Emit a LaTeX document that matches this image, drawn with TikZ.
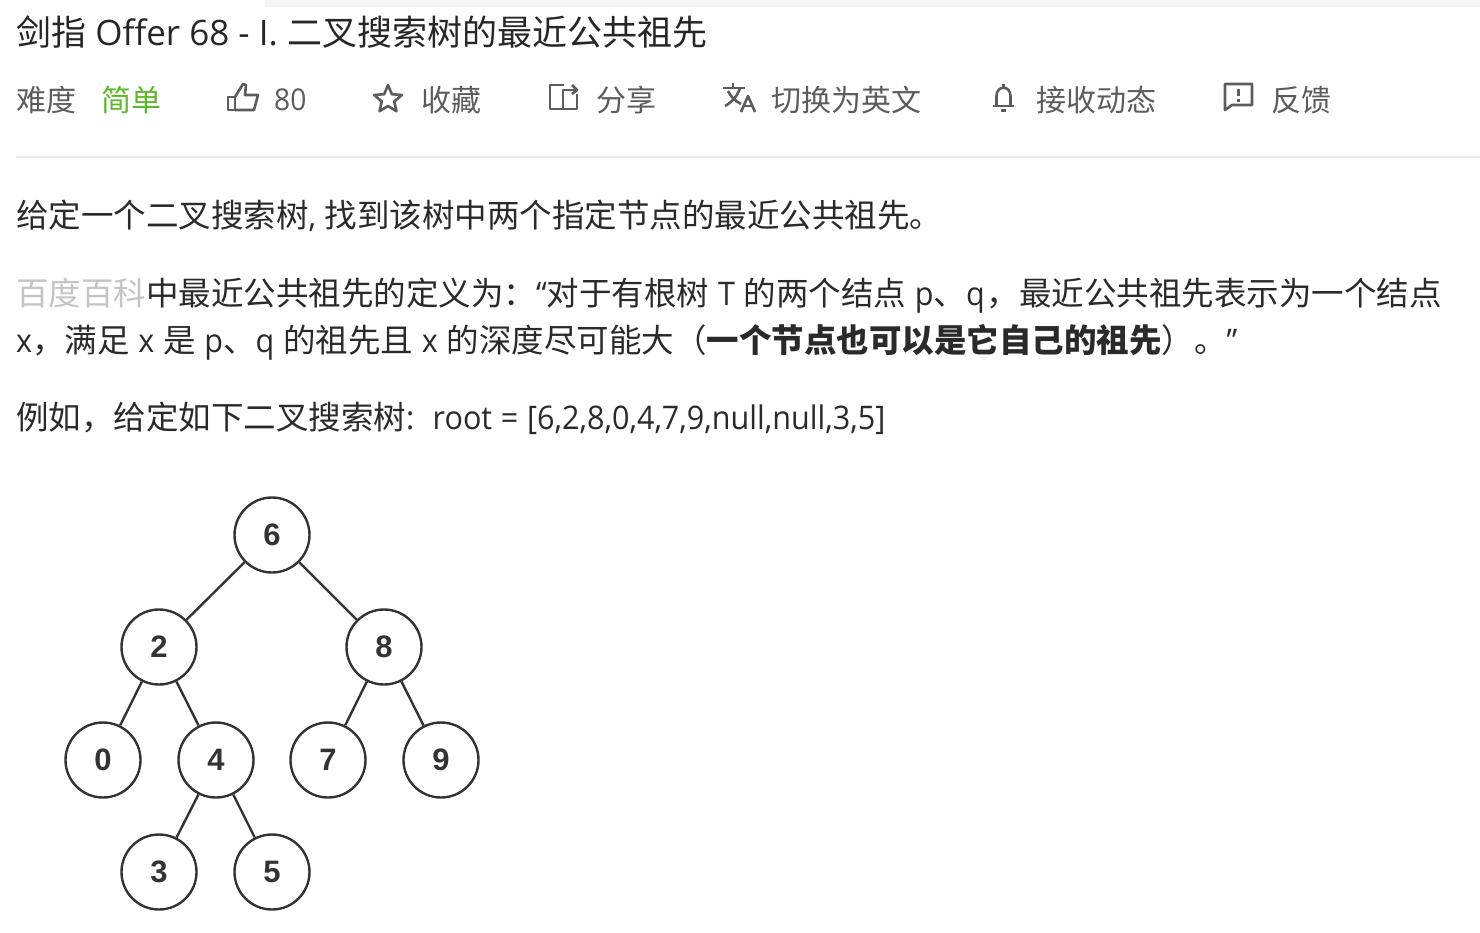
\documentclass[tikz,border=0pt]{standalone}
\usepackage{fontspec}
\setmainfont[FakeStretch=0.94, WordSpace=1.1]{Open Sans}
\newfontfamily\cjk{Noto Sans CJK SC}
\newfontfamily\titlefont{Open Sans}
\newfontfamily\treefont{Liberation Sans}
\newcommand{\zh}[1]{{\cjk #1}}
\newcommand{\zhcomma}{{\cjk\char"FF0C}}
\newcommand{\zhcolon}{{\cjk\char"FF1A}}
\newcommand{\zhleft}{{\cjk\char"FF08}}
\newcommand{\zhright}{{\cjk\char"FF09}}
\definecolor{titlecol}{HTML}{262626}
\definecolor{bodycol}{HTML}{2A2A2A}
\definecolor{metacol}{HTML}{5C5C5C}
\definecolor{easycol}{HTML}{5CB82A}
\definecolor{linkcol}{HTML}{C4C4C4}
\definecolor{rulecol}{HTML}{E8E8E8}
\definecolor{barcol}{HTML}{F5F5F5}
\definecolor{treecol}{HTML}{333333}
\tikzset{
    titletext/.style={anchor=base west, inner sep=0pt, text=titlecol, font=\titlefont\fontsize{35}{40}\selectfont},
    metatext/.style={anchor=base west, inner sep=0pt, text=metacol, font=\fontsize{30}{36}\selectfont},
    bodytext/.style={anchor=base west, inner sep=0pt, text=bodycol, font=\fontsize{32.5}{38}\selectfont},
    treenode/.style={circle, draw=treecol, line width=2.4pt, minimum size=75pt, inner sep=0pt, text=treecol, font=\treefont\bfseries\fontsize{31}{36}\selectfont},
    treeedge/.style={draw=treecol, line width=2.4pt},
    iconline/.style={draw=metacol, line width=2.6pt, line join=round}
}

\begin{document}
\begin{tikzpicture}[x=1pt, y=-1pt]
    \useasboundingbox (0, 0) rectangle (1480, 932);
    \fill[barcol] (265, 0) rectangle (1480, 7);

    % heading
    \node[titletext] (title) at (16, 45) {\zh{剑指} Offer 68 - I. \hspace{1pt}\zh{二叉搜索树的最近公共祖先}};

    % toolbar
    \node[metatext] (level) at (16, 111) {\zh{难度}};
    \node[metatext, text=easycol] (easy) at (101, 111) {\zh{简单}};
    \node[metatext] (likes) at (274, 110) {80};
    \node[metatext] (collect) at (421, 111) {\zh{收藏}};
    \node[metatext] (share) at (596, 111) {\zh{分享}};
    \node[metatext] (english) at (771, 111) {\zh{切换为英文}};
    \node[metatext] (notify) at (1036, 111) {\zh{接收动态}};
    \node[metatext] (feedback) at (1271, 111) {\zh{反馈}};

    % toolbar icons
    \draw[iconline] (228, 97) rectangle (235, 110);
    \draw[iconline] (235, 97) -- (243, 84) -- (246, 85) -- (245, 95) -- (258, 95) -- (254, 110) -- (235, 110);
    \draw[iconline] (388, 85) -- (391.8, 94.2) -- (401.8, 95) -- (394.2, 101.5) -- (396.5, 111.2) -- (388, 106)
        -- (379.5, 111.2) -- (381.8, 101.5) -- (374.2, 95) -- (384.2, 94.2) -- cycle;
    \draw[iconline] (564, 85) -- (550, 85) -- (550, 109) -- (577, 109) -- (577, 94);
    \draw[iconline] (563, 109) -- (563, 90) -- (576, 90);
    \draw[iconline] (572, 85) -- (577, 90) -- (572, 94);
    \draw[iconline] (723, 88) -- (745, 88);
    \draw[iconline] (733, 83) -- (733, 88);
    \draw[iconline] (740, 88) .. controls (737, 97) and (732, 102) .. (725, 106);
    \draw[iconline] (728, 91) .. controls (731, 97) and (735, 101) .. (741, 104);
    \draw[iconline] (741, 112) -- (748, 96) -- (755, 112);
    \draw[iconline] (743.5, 106) -- (752.5, 106);
    \draw[iconline] (993, 106) -- (1014, 106);
    \draw[iconline] (996.5, 106) -- (996.5, 96) .. controls (996.5, 85) and (1010.5, 85) .. (1010.5, 96) -- (1010.5, 106);
    \draw[iconline] (1003.5, 83.5) -- (1003.5, 87);
    \draw[iconline] (1001, 110.5) -- (1006, 110.5);
    \draw[iconline] (1225, 84) -- (1252, 84) -- (1252, 105) -- (1232, 105) -- (1225, 110) -- cycle;
    \draw[iconline] (1238.5, 89) -- (1238.5, 96);
    \draw[iconline] (1238.5, 99) -- (1238.5, 102);

    \draw[rulecol, line width=2pt] (16, 157) -- (1480, 157);

    % statement
    \node[bodytext] (line1) at (16, 227) {\zh{给定一个二叉搜索树}, \zh{找到该树中两个指定节点的最近公共祖先。}};
    \node[bodytext] (line2) at (16, 305) {\textcolor{linkcol}{\zh{百度百科}}\zh{中最近公共祖先的定义为}\zhcolon “\zh{对于有根树} T \zh{的两个结点} p\zh{、}q\hspace{2pt}\zhcomma\zh{最近公共祖先表示为一个结点}};
    \node[bodytext] (line3) at (16, 352) {x\zhcomma\zh{满足} x \zh{是} p\zh{、}q \zh{的祖先且} x \zh{的深度尽可能大}\zhleft{\cjk\bfseries 一个节点也可以是它自己的祖先}\zhright\zh{。}”};
    \node[bodytext] (line4) at (16, 429) {\zh{例如}\zhcomma\zh{给定如下二叉搜索树}:\hspace{7pt} root = [6,2,8,0,4,7,9,null,null,3,5]};

    % tree
    \node[treenode] (n6) at (272, 535) {6};
    \node[treenode] (n2) at (159, 647) {2};
    \node[treenode] (n8) at (384, 647) {8};
    \node[treenode] (n0) at (103, 760) {0};
    \node[treenode] (n4) at (216, 760) {4};
    \node[treenode] (n7) at (328, 760) {7};
    \node[treenode] (n9) at (441, 760) {9};
    \node[treenode] (n3) at (159, 872) {3};
    \node[treenode] (n5) at (272, 872) {5};
    \draw[treeedge] (n6) -- (n2);
    \draw[treeedge] (n6) -- (n8);
    \draw[treeedge] (n2) -- (n0);
    \draw[treeedge] (n2) -- (n4);
    \draw[treeedge] (n8) -- (n7);
    \draw[treeedge] (n8) -- (n9);
    \draw[treeedge] (n4) -- (n3);
    \draw[treeedge] (n4) -- (n5);
\end{tikzpicture}
\end{document}
